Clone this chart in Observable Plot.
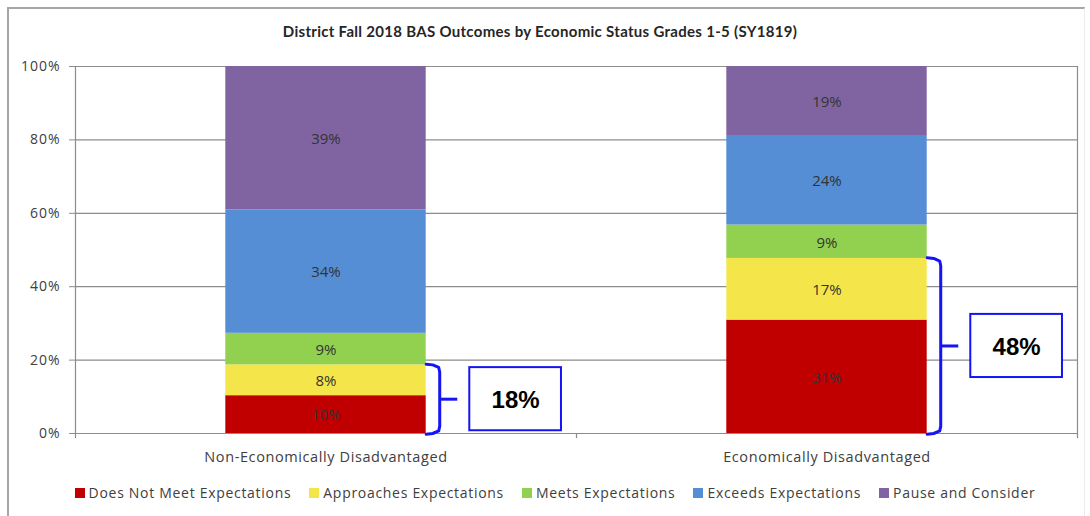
<!DOCTYPE html>
<html>
<head>
<meta charset="utf-8">
<script src="https://cdn.jsdelivr.net/npm/d3@7"></script>
<script src="https://cdn.jsdelivr.net/npm/@observablehq/plot@0.6"></script>
<style>
  html, body { margin: 0; padding: 0; background: #fff; }
  #wrap { position: relative; width: 1090px; height: 516px; overflow: hidden; font-family: "Open Sans", sans-serif; }
  #frame { position: absolute; left: 7px; top: 7px; width: 1078px; height: 530px; border-top: 2px solid #a6a6a6; border-left: 2px solid #a6a6a6; border-right: 1px solid #ececec; box-sizing: border-box; }
  #title { position: absolute; left: 0; width: 1080px; top: 22px; text-align: center; font-family: Lato, sans-serif; font-weight: bold; font-size: 15px; letter-spacing: 0.3px; color: #262626; }
  #chart { position: absolute; left: 0; top: 50px; }
  #legend { position: absolute; left: 0; width: 1128px; top: 476px; display: flex; justify-content: center; }
  .lg-swatches { font-family: "Open Sans", sans-serif; font-size: 14px !important; color: #404040; letter-spacing: 0.7px; }
  .lg-swatch { margin-right: 18px !important; }
  .lg-swatch svg { margin-right: 4px !important; }
  #chart svg [aria-label="y-axis tick"] path { stroke: #8c8c8c; }
  #chart svg [aria-label="y-axis tick label"] text { letter-spacing: 1px; }
</style>
</head>
<body>
<div id="wrap">
  <div id="frame"></div>
  <div id="title">District Fall 2018 BAS Outcomes by Economic Status Grades 1-5 (SY1819)</div>
  <div id="chart"></div>
  <div id="legend"></div>
</div>
<script>
// ---- data ----
const categories = ["Non-Economically Disadvantaged", "Economically Disadvantaged"];
const levels = ["Does Not Meet Expectations", "Approaches Expectations", "Meets Expectations", "Exceeds Expectations", "Pause and Consider"];
const levelColors = ["#c00000", "#f4e64a", "#92d050", "#558ed5", "#8064a2"];
const nonEconValues = [10.3, 8.4, 8.6, 33.6, 39.1];
const econValues = [30.9, 16.8, 9.1, 24.4, 18.8];
const bracketTotals = [18, 48];
const yTicks = [0, 20, 40, 60, 80, 100];

// ---- build tables ----
const seriesByCat = [nonEconValues, econValues];
const rows = [];
seriesByCat.forEach((vals, i) => {
  let cum = 0;
  vals.forEach((v, j) => {
    rows.push({cat: categories[i], xi: i, level: levels[j], y1: cum, y2: cum + v, v});
    cum += v;
  });
});

const halfBar = 0.2;
const blue = "#1414f5";
const braces = [];
const braceTicks = [];
const boxes = [];
seriesByCat.forEach((vals, i) => {
  const T = vals[0] + vals[1], B = 0, M = (T + B) / 2;
  const xe = i + halfBar, xr = i + halfBar + 0.027;
  const pts = [
    [xe, T + 0.2], [xe + 0.013, T], [xr - 0.002, T - 0.7], [xr, T - 2],
    [xr, B + 2], [xr - 0.002, B + 0.7], [xe + 0.013, B], [xe, B - 0.2]
  ];
  pts.forEach(([x, y]) => braces.push({cat: categories[i], x, y}));
  braceTicks.push({x1: xr, x2: i + halfBar + 0.062, y: M});
  boxes.push({x1: i + 0.287, x2: i + 0.47, y1: M - 8.6, y2: M + 8.6, xm: i + 0.3785, ym: M - 0.3, label: bracketTotals[i] + "%"});
});

const chart = Plot.plot({
  width: 1090,
  height: 420,
  marginLeft: 75,
  marginRight: 13,
  marginTop: 16,
  marginBottom: 37,
  style: {fontFamily: "Open Sans, sans-serif", fontSize: "14px", color: "#404040", background: "transparent"},
  x: {domain: [-0.5, 1.5], axis: null},
  y: {domain: [0, 100], ticks: yTicks, tickFormat: d => d + "%", tickSize: 6, tickPadding: 9, label: null},
  color: {domain: levels, range: levelColors},
  marks: [
    Plot.ruleY(yTicks, {stroke: "#8c8c8c", strokeWidth: 1.2}),
    Plot.ruleX([-0.5, 1.5], {stroke: "#8c8c8c", strokeWidth: 1.2}),
    Plot.ruleX([-0.5, 0.5, 1.5], {y1: 0, y2: -1.4, stroke: "#8c8c8c", strokeWidth: 1.2}),
    Plot.rect(rows, {x1: d => d.xi - halfBar, x2: d => d.xi + halfBar, y1: "y1", y2: "y2", fill: "level"}),
    Plot.text(rows, {x: "xi", y: d => (d.y1 + d.y2) / 2, text: d => Math.round(d.v) + "%", fill: "#333", fontSize: 15, dy: 1}),
    Plot.line(braces, {x: "x", y: "y", z: "cat", stroke: blue, strokeWidth: 3, strokeLinejoin: "round"}),
    Plot.link(braceTicks, {x1: "x1", x2: "x2", y1: "y", y2: "y", stroke: blue, strokeWidth: 3}),
    Plot.rect(boxes, {x1: "x1", x2: "x2", y1: "y1", y2: "y2", fill: "white", stroke: blue, strokeWidth: 2}),
    Plot.text(boxes, {x: "xm", y: "ym", text: "label", fontSize: 24, fontWeight: "bold", fontFamily: "Liberation Sans, Arial, sans-serif", fill: "#000"}),
    Plot.text(categories, {x: (d, i) => i, y: 0, dy: 24, text: d => d, fill: "#404040", fontSize: 14.5})
  ]
});
d3.select(chart).selectAll("text")
  .filter(function() { return categories.includes(this.textContent); })
  .style("letter-spacing", "0.6px");
d3.select(chart).selectAll("text")
  .filter(function() { return /^\d+%$/.test(this.textContent) && +this.getAttribute("font-size") === 15; })
  .style("letter-spacing", "0.5px");
document.getElementById("chart").appendChild(chart);

const legend = Plot.legend({
  color: {domain: levels, range: levelColors},
  legend: "swatches",
  swatchSize: 10,
  className: "lg",
  style: {fontSize: "14px"}
});
document.getElementById("legend").appendChild(legend);
</script>
</body>
</html>
